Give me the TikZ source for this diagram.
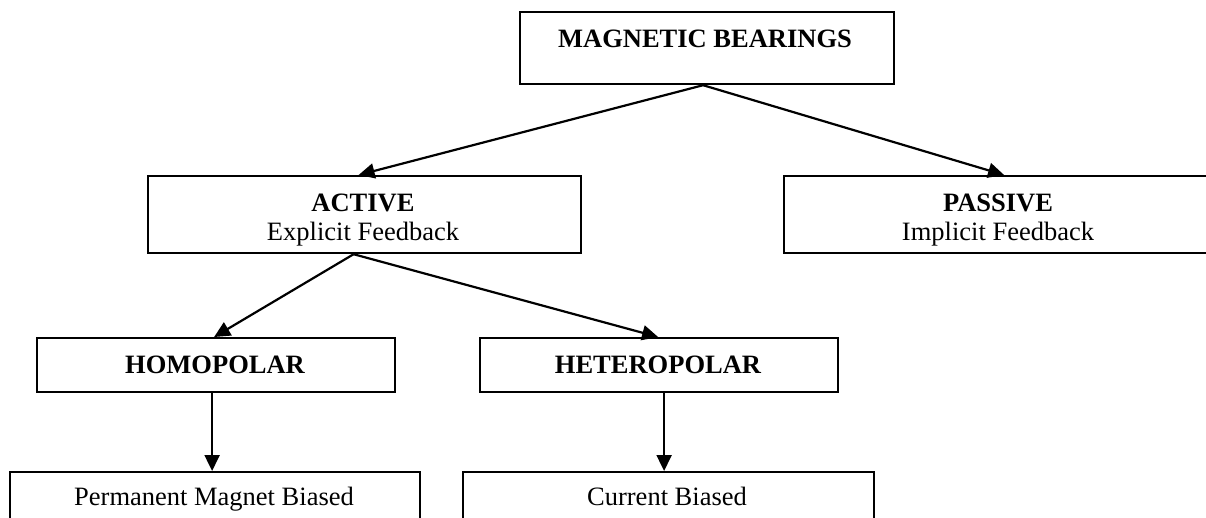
\documentclass[tikz,border=0pt]{standalone}
\usepackage{fontspec}
\setmainfont{Liberation Serif}
\usetikzlibrary{arrows.meta}
\begin{document}
\begin{tikzpicture}[x=1pt,y=-1pt,
  box/.style={draw, line width=2.2pt, inner sep=0pt, anchor=north west},
  lbl/.style={anchor=base, inner sep=0pt, font=\fontsize{26.5}{30}\selectfont},
  blbl/.style={anchor=base, inner sep=0pt, font=\fontsize{26.5}{30}\selectfont\bfseries},
  conn/.style={line width=2.2pt, -{Triangle[length=16pt,width=15pt]}}]
\useasboundingbox (0,0) rectangle (1206,517);
\fill[white] (0,0) rectangle (1206,517);
\clip (0,0) rectangle (1206,517);

% boxes
\node[box, minimum width=374pt, minimum height=72pt] (mb) at (519,11) {};
\node[box, minimum width=433pt, minimum height=77pt] (act) at (147,175) {};
\node[box, minimum width=430pt, minimum height=77pt] (pas) at (783,175) {};
\node[box, minimum width=358pt, minimum height=54pt] (homo) at (36,337) {};
\node[box, minimum width=358pt, minimum height=54pt] (het) at (479,337) {};
\node[box, minimum width=410pt, minimum height=80pt] (pmb) at (9,471) {};
\node[box, minimum width=411pt, minimum height=80pt] (cur) at (462,471) {};

% texts
\node[blbl] (mbt) at (705,47) {MAGNETIC BEARINGS};
\node[blbl] (actt) at (363,211) {ACTIVE};
\node[lbl] (acts) at (363,240) {Explicit Feedback};
\node[blbl] (past) at (998,211) {PASSIVE};
\node[lbl] (pass) at (998,240) {Implicit Feedback};
\node[blbl] (homot) at (215,373) {HOMOPOLAR};
\node[blbl] (hett) at (658,373) {HETEROPOLAR};
\node[lbl] (pmbt) at (214,505) {Permanent Magnet Biased};
\node[lbl] (curt) at (667,505) {Current Biased};

% connectors
\coordinate (mbo) at ([xshift=-4pt]mb.south);
\coordinate (acti) at ([xshift=-6pt]act.north);
\coordinate (pasi) at ([xshift=5pt]pas.north);
\coordinate (acto) at ([xshift=-11pt]act.south);
\coordinate (homoo) at ([xshift=-4pt]homo.south);
\coordinate (heto) at ([xshift=5pt]het.south);
\draw[conn] (mbo) -- (acti);
\draw[conn] (mbo) -- (pasi);
\draw[conn] (acto) -- ([xshift=-2pt]homo.north);
\draw[conn] (acto) -- ([xshift=-1pt]het.north);
\draw[conn] (homoo) -- (homoo |- pmb.north);
\draw[conn] (heto) -- (heto |- cur.north);
\end{tikzpicture}
\end{document}
